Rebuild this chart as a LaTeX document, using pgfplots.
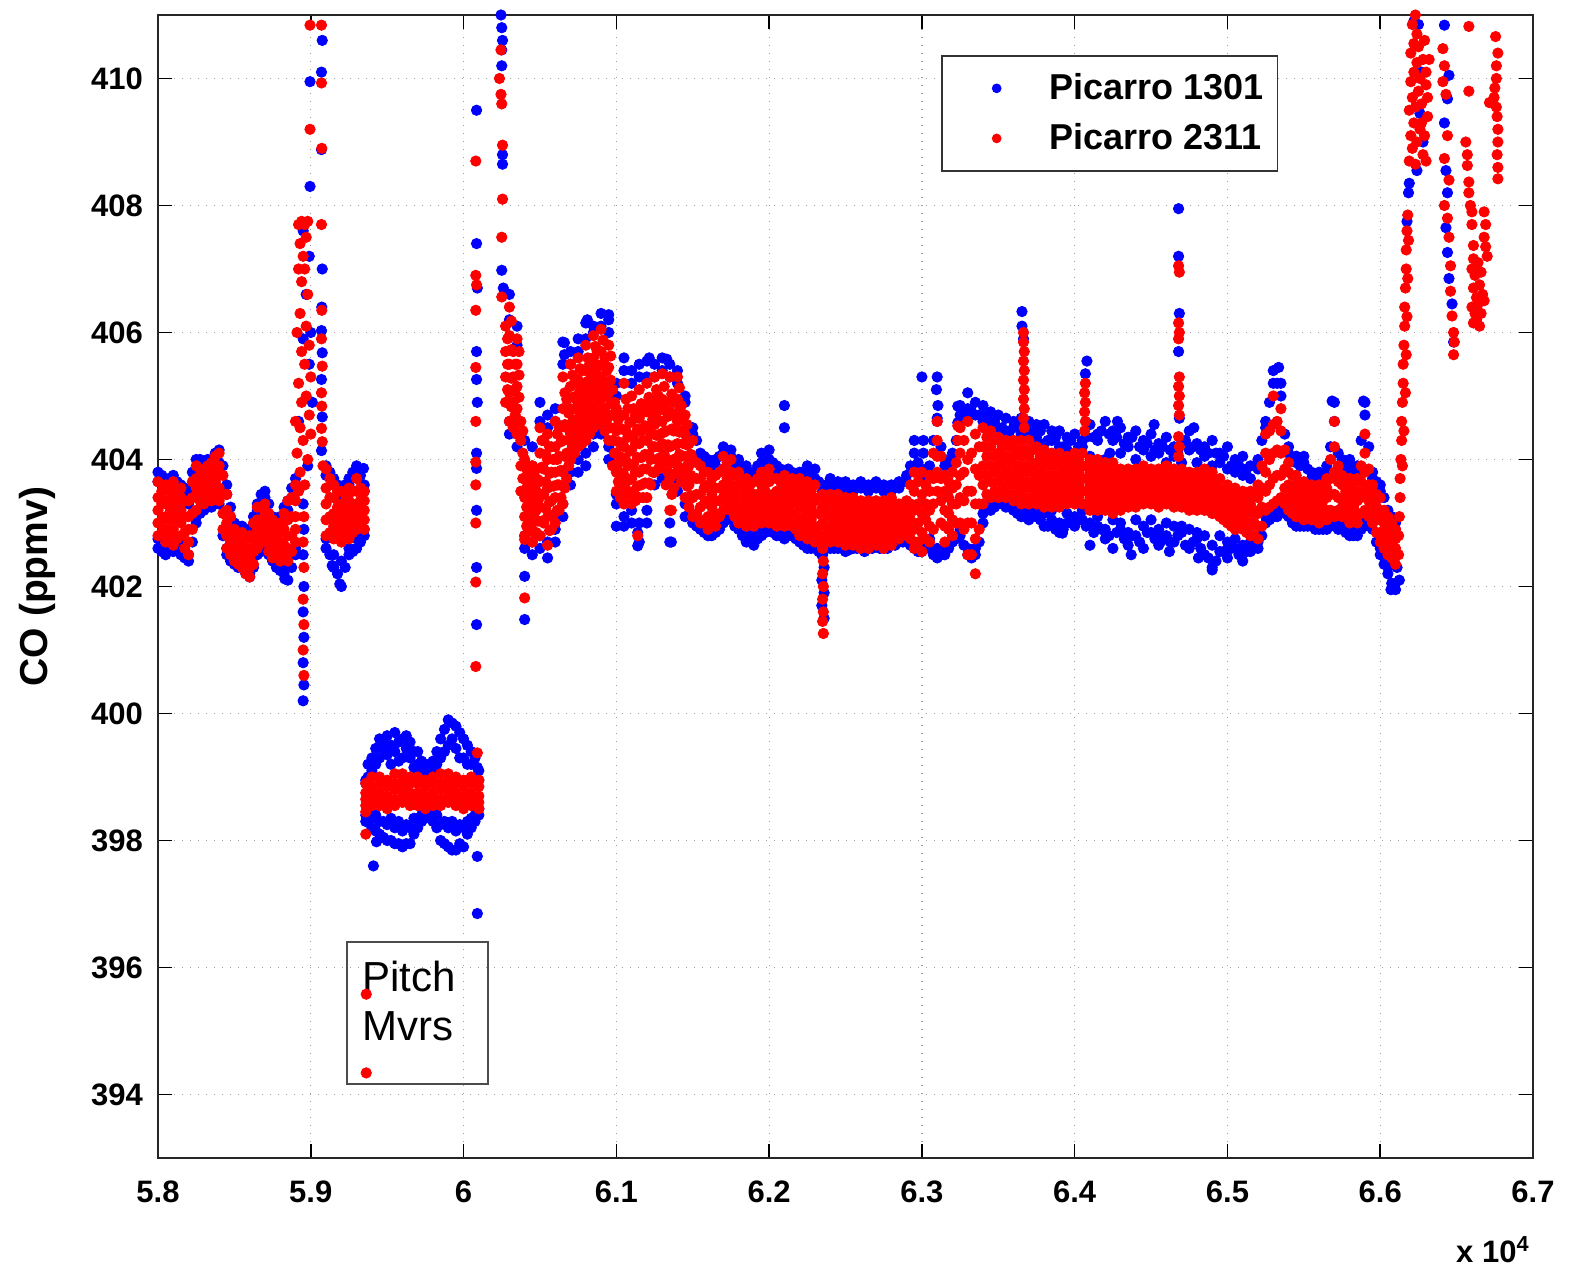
\documentclass[border=0pt]{standalone}
\usepackage{fontspec}
\setmainfont{Liberation Sans}
\usepackage{pgfplots}
\usepackage{pgfplotstable}
\pgfplotsset{compat=1.18}

\pgfplotstableread{
x b1 b2 b3 b4 r1 r2 r3 r4 r5
5.800 402.6 402.75 403.65 403.8 402.8 403.0 403.2 403.4 403.65
5.805 402.5 402.65 403.55 403.7 402.7 402.9 403.1 403.35 403.6
5.810 402.55 402.7 403.6 403.75 402.65 402.9 403.15 403.4 403.65
5.815 402.5 402.7 403.5 403.6 402.8 403.0 403.2 403.4 403.55
5.820 402.4 402.5 403.3 403.5 402.5 402.7 402.9 403.1 403.35
5.825 403.0 403.1 403.8 404.0 403.2 403.4 403.55 403.7 403.9
5.830 403.2 403.3 403.8 403.95 403.3 403.45 403.6 403.75 403.85
5.835 403.25 403.35 403.85 404.0 403.35 403.5 403.65 403.8 403.95
5.840 403.3 403.4 403.95 404.15 403.35 403.55 403.75 403.9 404.1
5.845 402.5 402.6 403.45 403.6 402.6 402.8 403.0 403.2 403.45
5.850 402.35 402.45 402.9 403.0 402.4 402.5 402.65 402.8 402.9
5.855 402.3 402.35 402.85 402.95 402.3 402.45 402.6 402.75 402.85
5.860 402.15 402.2 402.8 402.9 402.15 402.3 402.45 402.6 402.8
5.865 402.5 402.6 403.2 403.3 402.6 402.75 402.9 403.05 403.25
5.870 402.6 402.7 403.4 403.5 402.7 402.85 403.0 403.15 403.3
5.875 402.4 402.45 403.0 403.1 402.45 402.6 402.75 402.9 403.05
5.880 402.25 402.35 402.95 403.1 402.4 402.55 402.7 402.85 403.0
5.885 402.1 402.3 403.2 403.35 402.4 402.6 402.8 403.05 403.35
5.890 402.5 402.6 403.6 403.7 402.7 402.9 403.1 403.35 403.6
5.910 402.6 402.75 403.75 403.9 402.8 403.05 403.3 403.55 403.85
5.915 402.3 402.5 403.6 403.7 402.75 402.95 403.15 403.4 403.6
5.920 402.0 402.4 403.4 403.5 402.7 402.9 403.1 403.3 403.5
5.925 402.5 402.6 403.6 403.7 402.75 402.95 403.15 403.35 403.55
5.930 402.6 402.75 403.75 403.9 402.9 403.1 403.3 403.5 403.7
5.935 402.8 402.9 403.5 403.6 402.9 403.05 403.2 403.35 403.5
5.936 398.3 398.4 398.9 398.95 398.45 398.55 398.65 398.75 398.9
5.940 398.2 398.35 399.1 399.3 398.55 398.65 398.75 398.85 399.0
5.945 398.1 398.3 399.3 399.6 398.55 398.65 398.75 398.9 399.0
5.950 398.0 398.25 399.35 399.65 398.5 398.6 398.7 398.85 398.95
5.955 397.95 398.2 399.4 399.7 398.55 398.65 398.8 398.9 399.05
5.960 397.9 398.15 399.3 399.6 398.6 398.7 398.8 398.95 399.05
5.965 397.95 398.2 399.3 399.55 398.55 398.65 398.75 398.9 399.0
5.970 398.2 398.35 399.2 399.4 398.55 398.65 398.75 398.9 399.0
5.975 398.35 398.45 399.05 399.2 398.5 398.6 398.7 398.85 398.95
5.980 398.3 398.45 399.1 399.25 398.55 398.65 398.75 398.9 399.0
5.985 398.0 398.25 399.3 399.6 398.55 398.65 398.8 398.9 399.05
5.990 397.9 398.2 399.5 399.9 398.6 398.7 398.8 398.95 399.05
5.995 397.85 398.15 399.45 399.8 398.55 398.65 398.75 398.9 399.0
6.000 397.9 398.2 399.3 399.6 398.5 398.6 398.7 398.85 398.95
6.005 398.2 398.35 399.2 399.4 398.55 398.65 398.75 398.9 399.0
6.010 398.4 398.5 398.95 399.1 398.5 398.6 398.7 398.85 398.95
6.030 404.4 404.6 406.2 406.6 404.6 405.05 405.5 405.95 406.4
6.035 404.2 404.4 405.8 406.1 404.4 404.8 405.15 405.5 405.9
6.040 402.6 402.8 403.9 404.3 402.8 403.1 403.4 403.7 404.0
6.045 402.5 402.7 403.9 404.2 402.7 403.0 403.3 403.6 403.9
6.050 402.6 402.8 404.6 404.9 402.8 403.25 403.65 404.1 404.5
6.055 402.45 402.7 404.5 404.7 402.65 403.1 403.55 404.0 404.4
6.060 402.7 402.9 404.6 404.8 403.0 403.4 403.8 404.2 404.6
6.065 403.1 403.3 405.5 405.85 403.3 403.8 404.3 404.8 405.3
6.070 403.6 403.8 405.5 405.7 404.0 404.4 404.8 405.15 405.5
6.075 403.8 404.0 405.7 405.9 404.2 404.55 404.9 405.25 405.6
6.080 403.9 404.1 405.9 406.15 404.3 404.7 405.05 405.4 405.8
6.085 404.2 404.4 406.0 406.1 404.5 404.85 405.2 405.6 405.95
6.090 404.4 404.5 406.1 406.3 404.6 404.95 405.3 405.7 406.05
6.095 404.0 404.2 406.0 406.2 404.3 404.7 405.05 405.45 405.8
6.100 403.3 403.45 405.0 405.2 403.5 403.8 404.1 404.45 404.8
6.105 402.95 403.1 405.4 405.6 403.3 403.75 404.2 404.7 405.2
6.110 403.0 403.2 405.2 405.4 403.3 403.7 404.15 404.6 405.0
6.115 402.7 403.0 405.3 405.5 403.4 403.8 404.25 404.65 405.1
6.120 403.0 403.2 405.3 405.55 403.4 403.85 404.3 404.75 405.2
6.125 403.6 403.8 405.3 405.5 403.8 404.2 404.55 404.9 405.3
6.130 403.7 403.9 405.4 405.6 403.9 404.25 404.6 404.95 405.35
6.135 402.7 403.0 405.3 405.5 403.2 403.7 404.2 404.75 405.3
6.140 403.5 403.7 405.2 405.4 403.9 404.25 404.6 404.95 405.3
6.145 403.1 403.3 404.9 405.0 403.4 403.75 404.05 404.4 404.7
6.150 403.0 403.1 404.4 404.5 403.1 403.4 403.7 404.0 404.3
6.155 402.9 403.0 404.0 404.1 403.0 403.25 403.45 403.7 403.9
6.160 402.8 402.9 403.9 404.0 402.9 403.1 403.35 403.6 403.8
6.165 402.85 402.95 403.9 404.0 402.95 403.15 403.35 403.55 403.75
6.170 403.0 403.1 404.1 404.2 403.2 403.4 403.6 403.85 404.05
6.175 403.1 403.2 404.05 404.15 403.2 403.4 403.6 403.8 404.0
6.180 402.9 403.0 403.9 404.0 403.0 403.2 403.4 403.6 403.8
6.185 402.7 402.85 403.8 403.9 402.95 403.15 403.35 403.5 403.7
6.190 402.65 402.8 403.7 403.8 402.95 403.1 403.3 403.45 403.65
6.195 402.8 402.9 403.95 404.1 403.0 403.2 403.4 403.6 403.8
6.200 402.9 403.0 404.0 404.15 403.0 403.2 403.4 403.65 403.85
6.205 402.8 402.9 403.8 403.9 402.95 403.15 403.35 403.5 403.7
6.210 402.75 402.9 404.5 404.85 402.95 403.15 403.35 403.55 403.75
6.215 402.8 402.9 403.7 403.8 402.95 403.15 403.3 403.5 403.7
6.220 402.7 402.8 403.7 403.8 402.8 403.0 403.25 403.45 403.7
6.225 402.6 402.75 403.8 403.9 402.75 402.95 403.2 403.4 403.65
6.230 402.6 402.7 403.7 403.85 402.7 402.9 403.15 403.35 403.6
6.235 402.5 402.65 403.5 403.6 402.6 402.8 403.0 403.25 403.45
6.240 402.6 402.7 403.6 403.7 402.7 402.9 403.1 403.3 403.45
6.245 402.6 402.7 403.55 403.65 402.7 402.9 403.05 403.25 403.45
6.250 402.55 402.65 403.5 403.65 402.65 402.85 403.0 403.2 403.4
6.255 402.6 402.7 403.5 403.6 402.65 402.85 403.0 403.2 403.4
6.260 402.6 402.7 403.55 403.65 402.6 402.8 402.95 403.15 403.35
6.265 402.6 402.7 403.5 403.6 402.6 402.8 402.95 403.15 403.35
6.270 402.65 402.75 403.55 403.65 402.65 402.85 403.0 403.15 403.35
6.275 402.6 402.7 403.5 403.6 402.6 402.8 402.95 403.15 403.35
6.280 402.65 402.75 403.5 403.6 402.65 402.85 403.0 403.2 403.4
6.285 402.7 402.8 403.55 403.65 402.75 402.9 403.05 403.2 403.3
6.290 402.7 402.8 403.65 403.75 402.8 402.95 403.1 403.25 403.35
6.295 402.6 402.7 404.1 404.3 402.6 402.9 403.2 403.5 403.8
6.300 402.55 402.7 403.7 405.3 402.55 402.85 403.15 403.45 403.8
6.305 402.6 402.75 403.8 403.9 402.7 402.95 403.2 403.5 403.75
6.310 402.45 402.6 404.6 405.3 403.5 403.8 404.05 404.3 404.6
6.315 402.5 402.6 403.9 404.0 402.7 402.95 403.2 403.5 403.75
6.320 402.7 402.8 404.0 404.1 402.8 403.05 403.3 403.55 403.8
6.325 402.8 402.9 404.7 404.85 403.0 403.4 403.75 404.1 404.5
6.330 402.5 402.6 404.8 405.05 402.5 403.0 403.5 404.0 404.6
6.335 402.5 402.6 404.7 404.9 402.2 402.75 403.3 403.85 404.4
6.340 403.0 403.15 404.6 404.85 403.3 403.6 403.9 404.2 404.5
6.345 403.2 403.3 404.75 404.55 403.4 403.65 403.9 404.2 404.45
6.350 403.3 403.4 404.5 404.7 403.4 403.65 403.9 404.1 404.35
6.355 403.25 403.45 404.65 404.45 403.4 403.6 403.85 404.05 404.3
6.360 403.2 403.3 404.5 404.6 403.35 403.6 403.8 404.05 404.3
6.365 403.1 403.25 404.65 404.4 403.3 403.55 403.8 404.05 404.3
6.370 403.05 403.2 404.45 404.6 403.3 403.55 403.8 404.05 404.3
6.375 403.1 403.2 404.55 404.35 403.3 403.5 403.75 403.95 404.2
6.380 402.95 403.15 404.25 404.55 403.25 403.45 403.7 403.9 404.15
6.385 403.05 403.2 404.45 404.3 403.25 403.45 403.65 403.9 404.1
6.390 402.85 403.0 404.2 404.45 403.25 403.45 403.7 403.9 404.1
6.395 403.0 403.15 404.35 404.15 403.3 403.5 403.7 403.85 404.05
6.400 402.95 403.1 404.1 404.4 403.3 403.5 403.7 403.9 404.1
6.405 403.05 403.2 404.3 404.2 403.3 403.5 403.7 403.9 404.1
6.410 402.65 403.0 404.05 404.55 403.2 403.4 403.6 403.8 404.0
6.415 402.95 403.1 404.3 404.4 403.2 403.4 403.6 403.8 404.0
6.420 402.75 402.9 404.0 404.6 403.2 403.4 403.55 403.75 403.95
6.425 402.6 403.05 404.45 404.3 403.15 403.35 403.55 403.75 403.95
6.430 402.9 403.0 404.1 404.5 403.2 403.35 403.5 403.7 403.85
6.435 402.65 402.85 404.35 404.2 403.25 403.4 403.55 403.7 403.85
6.440 402.8 403.05 404.0 404.45 403.25 403.4 403.55 403.7 403.85
6.445 402.6 402.95 404.3 404.15 403.3 403.45 403.6 403.75 403.9
6.450 402.85 403.05 404.05 404.4 403.3 403.45 403.6 403.75 403.85
6.455 402.65 402.9 404.25 404.1 403.25 403.4 403.55 403.7 403.85
6.460 402.8 403.0 403.95 404.35 403.3 403.45 403.6 403.75 403.9
6.465 402.7 402.95 404.2 404.05 403.25 403.4 403.55 403.7 403.85
6.470 402.85 402.95 403.95 404.3 403.25 403.4 403.55 403.7 403.85
6.475 402.6 402.9 404.15 404.45 403.2 403.35 403.5 403.65 403.8
6.480 402.75 402.85 403.95 404.25 403.2 403.35 403.5 403.65 403.8
6.485 402.5 402.8 404.2 404.05 403.2 403.35 403.5 403.7 403.85
6.490 402.3 402.65 403.9 404.3 403.15 403.3 403.45 403.6 403.8
6.495 402.55 402.8 404.1 403.95 403.1 403.25 403.4 403.55 403.7
6.500 402.45 402.7 403.85 404.2 403.0 403.15 403.3 403.45 403.6
6.505 402.6 402.75 404.0 403.8 402.9 403.05 403.2 403.4 403.55
6.510 402.4 402.65 403.75 404.05 402.9 403.05 403.2 403.35 403.5
6.515 402.55 402.7 403.9 403.7 402.8 402.95 403.15 403.3 403.5
6.520 402.6 402.7 403.85 404.0 402.75 402.95 403.15 403.4 403.6
6.525 403.0 403.1 404.5 404.6 403.2 403.5 403.8 404.1 404.4
6.530 403.1 403.2 405.2 405.4 403.3 403.7 404.1 404.55 405.0
6.535 403.2 403.3 405.0 405.2 403.4 403.75 404.1 404.45 404.8
6.540 403.1 403.2 404.1 404.2 403.2 403.4 403.6 403.8 403.95
6.545 402.95 403.05 403.95 404.05 403.1 403.25 403.45 403.6 403.75
6.550 402.95 403.05 403.95 404.05 403.05 403.2 403.35 403.5 403.65
6.555 402.95 403.05 403.7 403.8 403.05 403.2 403.35 403.5 403.6
6.560 402.9 403.0 403.7 403.8 403.0 403.15 403.3 403.45 403.6
6.565 402.9 403.0 403.8 403.9 403.05 403.2 403.4 403.55 403.7
6.570 402.95 403.1 404.6 404.9 403.1 403.45 403.8 404.2 404.6
6.575 402.9 403.0 403.9 404.0 403.1 403.25 403.4 403.6 403.75
6.580 402.8 402.9 403.85 404.0 403.0 403.2 403.35 403.55 403.7
6.585 402.8 402.9 403.8 403.9 403.0 403.15 403.35 403.5 403.7
6.590 403.0 403.1 404.7 404.9 403.2 403.5 403.8 404.1 404.4
6.595 402.9 403.0 403.7 403.8 403.0 403.15 403.3 403.45 403.6
6.600 402.5 402.6 403.5 403.6 402.7 402.85 403.05 403.2 403.4
6.605 402.2 402.3 403.1 403.2 402.5 402.65 402.8 402.95 403.1
6.610 401.95 402.05 402.9 403.0 402.35 402.5 402.6 402.75 402.9
}\mainband

\pgfplotstableread{
x m1 m2 m3 m4 c1 c2
5.8025 402.85 403.05 403.3 403.5 402.55 403.75
5.8075 402.8 403.05 403.25 403.5 402.6 403.7
5.8125 402.75 403.05 403.3 403.5 402.6 403.65
5.8175 402.6 402.85 403.1 403.35 402.45 403.55
5.8225 402.9 403.15 403.4 403.65 402.7 403.8
5.8275 403.35 403.55 403.7 403.85 403.15 404.0
5.8325 403.4 403.55 403.7 403.9 403.25 404.0
5.8375 403.45 403.65 403.85 404.05 403.3 404.1
5.8425 402.9 403.15 403.45 403.75 402.8 403.9
5.8475 402.5 402.7 402.9 403.1 402.4 403.25
5.8525 402.35 402.5 402.65 402.8 402.3 402.95
5.8575 402.2 402.4 402.55 402.75 402.2 402.9
5.8625 402.35 402.55 402.75 403.0 402.3 403.1
5.8675 402.7 402.85 403.05 403.25 402.55 403.45
5.8725 402.55 402.75 402.95 403.15 402.5 403.3
5.8775 402.5 402.65 402.8 402.95 402.3 403.05
5.8825 402.45 402.65 402.9 403.15 402.2 403.25
5.8875 402.55 402.8 403.1 403.4 402.3 403.55
5.9125 402.85 403.1 403.4 403.7 402.5 403.8
5.9175 402.8 403.0 403.25 403.5 402.2 403.6
5.9225 402.8 403.0 403.2 403.45 402.3 403.6
5.9275 402.85 403.05 403.25 403.5 402.55 403.8
5.9325 402.95 403.15 403.35 403.55 402.7 403.75
6.1525 403.15 403.45 403.7 403.95 402.95 404.3
6.1575 403.05 403.3 403.55 403.8 402.85 404.05
6.1625 403.0 403.25 403.45 403.7 402.8 403.95
6.1675 403.1 403.35 403.55 403.8 402.9 404.05
6.1725 403.3 403.5 403.7 403.95 403.05 404.15
6.1775 403.1 403.3 403.5 403.75 402.95 403.95
6.1825 403.05 403.25 403.45 403.65 402.8 403.85
6.1875 403.05 403.2 403.4 403.6 402.7 403.8
6.1925 403.05 403.25 403.45 403.7 402.75 403.9
6.1975 403.1 403.3 403.5 403.75 402.85 404.0
6.2025 403.05 403.25 403.45 403.7 402.85 403.95
6.2075 403.05 403.25 403.45 403.65 402.8 403.85
6.2125 403.05 403.25 403.4 403.6 402.8 403.85
6.2175 402.9 403.1 403.35 403.6 402.75 403.75
6.2225 402.85 403.1 403.3 403.55 402.65 403.8
6.2275 402.8 403.05 403.25 403.5 402.6 403.75
6.2325 402.75 402.95 403.15 403.4 402.55 403.65
6.2375 402.75 402.95 403.15 403.35 402.6 403.6
6.2425 402.8 403.0 403.15 403.35 402.6 403.6
6.2475 402.75 402.95 403.1 403.3 402.6 403.55
6.2525 402.75 402.9 403.1 403.3 402.6 403.55
6.2575 402.7 402.9 403.05 403.25 402.6 403.6
6.2625 402.7 402.85 403.05 403.25 402.55 403.55
6.2675 402.75 402.9 403.05 403.25 402.6 403.6
6.2725 402.7 402.9 403.05 403.25 402.6 403.55
6.2775 402.75 402.9 403.1 403.3 402.6 403.55
6.2825 402.8 402.95 403.1 403.3 402.65 403.6
6.2875 402.85 403.0 403.15 403.3 402.7 403.65
6.2925 402.75 403.05 403.3 403.6 402.65 403.9
6.2975 402.7 403.0 403.3 403.65 402.55 403.95
6.3025 402.75 403.05 403.3 403.6 402.6 403.85
6.3075 402.9 403.3 403.7 404.1 402.5 404.3
6.3125 403.0 403.35 403.7 404.05 402.5 404.2
6.3175 402.9 403.15 403.4 403.65 402.6 403.95
6.3225 403.0 403.3 403.6 403.95 402.75 404.3
6.3275 402.9 403.35 403.8 404.3 402.65 404.7
6.3325 402.5 403.0 403.5 404.1 402.45 404.75
6.3375 402.9 403.3 403.75 404.2 402.7 404.7
6.3425 403.45 403.75 404.05 404.35 403.2 404.7
6.3475 403.5 403.8 404.05 404.3 403.25 404.6
6.3525 403.5 403.75 403.95 404.2 403.3 404.5
6.3575 403.45 403.7 403.95 404.2 403.25 404.45
6.3625 403.45 403.7 403.9 404.15 403.15 404.55
6.3675 403.4 403.65 403.9 404.15 403.1 404.5
6.3725 403.4 403.65 403.9 404.15 403.1 404.4
6.3775 403.35 403.6 403.8 404.05 403.05 404.45
6.3825 403.35 403.55 403.75 404.0 402.95 404.3
6.3875 403.35 403.55 403.75 404.0 402.9 404.35
6.3925 403.35 403.6 403.8 403.95 402.9 404.2
6.3975 403.4 403.6 403.8 404.0 403.0 404.3
6.4025 403.4 403.6 403.8 404.0 403.05 404.2
6.4075 403.3 403.5 403.7 403.9 402.95 404.35
6.4125 403.3 403.5 403.7 403.9 402.85 404.35
6.4175 403.3 403.5 403.65 403.85 402.9 404.45
6.4225 403.25 403.45 403.65 403.85 402.8 404.4
6.4275 403.25 403.45 403.6 403.8 402.85 404.35
6.4325 403.3 403.45 403.6 403.75 402.75 404.25
6.4375 403.3 403.45 403.6 403.75 402.8 404.35
6.4425 403.35 403.5 403.65 403.8 402.7 404.2
6.4475 403.35 403.5 403.65 403.8 402.85 404.25
6.4525 403.3 403.45 403.6 403.75 402.75 404.15
6.4575 403.35 403.5 403.65 403.8 402.8 404.2
6.4625 403.3 403.45 403.6 403.75 402.7 404.15
6.4675 403.3 403.45 403.6 403.75 402.8 404.1
6.4725 403.25 403.4 403.55 403.7 402.65 404.3
6.4775 403.25 403.4 403.55 403.7 402.7 404.2
6.4825 403.25 403.4 403.6 403.75 402.6 404.15
6.4875 403.2 403.35 403.55 403.7 402.45 404.1
6.4925 403.15 403.3 403.5 403.65 402.4 404.1
6.4975 403.05 403.2 403.35 403.5 402.55 404.05
6.5025 402.95 403.1 403.3 403.45 402.6 403.9
6.5075 402.95 403.1 403.25 403.45 402.5 403.9
6.5125 402.85 403.0 403.2 403.4 402.55 403.85
6.5175 402.8 403.0 403.2 403.45 402.6 403.9
6.5225 402.95 403.25 403.55 403.9 402.8 404.3
6.5275 403.25 403.6 404.0 404.45 403.05 404.9
6.5325 403.35 403.75 404.15 404.6 403.1 405.2
6.5375 403.3 403.55 403.85 404.15 403.15 404.4
6.5425 403.15 403.35 403.55 403.75 403.0 404.0
6.5475 403.1 403.25 403.4 403.6 402.95 403.9
6.5525 403.1 403.25 403.4 403.55 402.95 403.85
6.5575 403.05 403.2 403.35 403.5 402.9 403.7
6.5625 403.05 403.2 403.35 403.55 402.9 403.75
6.5675 403.2 403.45 403.7 404.0 402.95 404.2
6.5725 403.2 403.4 403.65 403.9 402.9 404.1
6.5775 403.1 403.3 403.5 403.7 402.85 403.9
6.5825 403.05 403.25 403.45 403.65 402.8 403.85
6.5875 403.15 403.4 403.65 403.9 402.9 404.3
6.5925 403.1 403.35 403.6 403.85 402.95 404.2
6.5975 402.85 403.05 403.25 403.45 402.7 403.65
6.6025 402.6 402.8 403.0 403.2 402.35 403.4
6.6075 402.45 402.6 402.8 403.0 402.05 403.1
}\midband

\pgfplotstableread{
x e1 e2 e3 e4
5.9375 398.3 398.45 399.0 399.2
5.9425 398.15 398.4 399.2 399.45
5.9475 398.05 398.3 399.45 399.55
5.9525 398.0 398.35 399.2 399.5
5.9575 397.95 398.3 399.25 399.55
5.9625 397.95 398.25 399.45 399.65
5.9675 398.1 398.35 399.15 399.4
5.9725 398.3 398.4 399.1 399.25
5.9775 398.4 398.45 399.1 399.2
5.9825 398.2 398.4 399.2 399.4
5.9875 397.95 398.3 399.4 399.75
5.9925 397.85 398.3 399.6 399.85
5.9975 397.95 398.25 399.3 399.7
6.0025 398.1 398.3 399.2 399.5
6.0075 398.3 398.4 399.0 399.3
}\pitchblue

\pgfplotstableread{
x a1 a2 a3 a4
6.0275 404.9 405.3 405.7 406.1
6.0325 404.5 404.9 405.3 405.7
6.0375 403.5 403.9 404.3 404.6
6.0425 402.9 403.25 403.55 403.85
6.0475 402.85 403.2 403.5 403.85
6.0525 403.0 403.45 403.85 404.3
6.0575 402.9 403.35 403.8 404.2
6.0625 403.2 403.6 404.05 404.5
6.0675 403.7 404.1 404.5 404.95
6.0725 404.1 404.45 404.8 405.2
6.0775 404.25 404.6 404.95 405.4
6.0825 404.4 404.75 405.1 405.5
6.0875 404.55 404.9 405.25 405.7
6.0925 404.45 404.8 405.2 405.6
6.0975 403.9 404.3 404.7 405.1
6.1025 403.4 403.8 404.25 404.7
6.1075 403.45 403.9 404.35 404.8
6.1125 403.35 403.8 404.25 404.7
6.1175 403.4 403.85 404.3 404.75
6.1225 403.6 404.0 404.4 404.85
6.1275 403.85 404.2 404.6 405.0
6.1325 403.6 404.0 404.45 404.9
6.1375 403.55 404.0 404.45 404.9
6.1425 403.65 404.05 404.45 404.85
6.1475 403.25 403.6 403.9 404.25
}\widered

\pgfplotstableread{
x w1 w2 w3 w4
6.0313 404.83 405.28 405.73 406.18
6.0363 404.6 404.98 405.33 405.7
6.0413 402.95 403.25 403.55 403.85
6.0463 402.85 403.15 403.45 403.75
6.0513 403.03 403.45 403.88 404.3
6.0563 402.88 403.33 403.78 404.2
6.0613 403.2 403.6 404.0 404.4
6.0663 403.55 404.05 404.55 405.05
6.0713 404.2 404.6 404.98 405.33
6.0763 404.38 404.73 405.08 405.43
6.0813 404.5 404.88 405.23 405.6
6.0863 404.68 405.03 405.4 405.78
6.0913 404.78 405.13 405.5 405.88
6.0963 404.5 404.88 405.25 405.63
6.1013 403.65 403.95 404.28 404.63
6.1063 403.53 403.98 404.45 404.95
6.1113 403.5 403.93 404.38 404.8
6.1163 403.6 404.03 404.45 404.88
6.1213 403.63 404.08 404.53 404.98
6.1263 404.0 404.38 404.73 405.1
6.1313 404.08 404.43 404.78 405.15
6.1363 403.45 403.95 404.48 405.03
6.1413 404.08 404.43 404.78 405.13
6.1463 403.58 403.9 404.23 404.55
}\wideredb

\pgfplotstableread{
x v1 v2 v3
6.0288 405.1 405.5 405.9
6.0338 404.7 405.1 405.5
6.0388 403.7 404.1 404.45
6.0438 403.08 403.4 403.7
6.0488 403.03 403.35 403.68
6.0538 403.23 403.65 404.08
6.0588 403.13 403.58 404.0
6.0638 403.4 403.83 404.28
6.0688 403.9 404.3 404.73
6.0738 404.28 404.63 405.0
6.0788 404.43 404.78 405.18
6.0838 404.58 404.93 405.3
6.0888 404.73 405.08 405.48
6.0938 404.63 405.0 405.4
6.0988 404.1 404.5 404.9
6.1038 403.6 404.03 404.48
6.1088 403.68 404.13 404.58
6.1138 403.58 404.03 404.48
6.1188 403.63 404.08 404.53
6.1238 403.8 404.2 404.63
6.1288 404.03 404.4 404.8
6.1338 403.8 404.23 404.68
6.1388 403.78 404.23 404.68
6.1438 403.85 404.25 404.65
6.1488 403.43 403.75 404.08
}\wideredc

\pgfplotsset{
  bd/.style={only marks, mark=*, mark size=2.6pt, color=blue, forget plot},
  rd/.style={only marks, mark=*, mark size=2.6pt, color=red, forget plot}
}

\begin{document}
\begin{tikzpicture}
\begin{axis}[name=ax, scale only axis, width=687.5pt, height=571.5pt,
  xmin=5.8, xmax=6.7, ymin=393, ymax=411,
  xtick={5.8,5.9,6.0,6.1,6.2,6.3,6.4,6.5,6.6,6.7},
  xticklabels={5.8,5.9,6,6.1,6.2,6.3,6.4,6.5,6.6,6.7},
  ytick={394,396,398,400,402,404,406,408,410},
  yticklabels={394,396,398,400,402,404,406,408,410},
  tick align=inside, xtick pos=both, ytick pos=both, major tick length=7pt,
  tick style={black, line width=0.8pt},
  axis line style={black!85, line width=1pt},
  grid=major, major grid style={gray!75, line width=0.6pt, dash pattern=on 0.7pt off 3.3pt},
  ticklabel style={font=\fontsize{15.5}{18}\selectfont\bfseries},
  xticklabel style={yshift=-8pt},
  yticklabel style={xshift=-4pt},
  legend style={at={(0.5695,0.965)}, anchor=north west, draw=black!80, line width=0.8pt,
    font=\fontsize{18}{21}\selectfont\bfseries, inner xsep=5pt, inner ysep=7pt,
    row sep=6.5pt},
  legend cell align=left,
  legend image code/.code={\path (-22pt,0pt) (24pt,0pt);
    \draw[mark repeat=2,mark phase=2,mark size=2pt] plot coordinates {(-1pt,0pt) (0pt,0pt) (1pt,0pt)};},
]
% ---- blue (Picarro 1301) ----
\addplot[only marks, mark=*, mark size=2.6pt, color=blue] table[x=x,y=b1]{\mainband};
\addlegendentry{Picarro 1301}
\addplot[bd] table[x=x,y=b2]{\mainband};
\addplot[bd] table[x=x,y=b3]{\mainband};
\addplot[bd] table[x=x,y=b4]{\mainband};
\addplot[bd] table[x=x,y=c1]{\midband};
\addplot[bd] table[x=x,y=c2]{\midband};
\addplot[bd] table[x=x,y=e1]{\pitchblue};
\addplot[bd] table[x=x,y=e2]{\pitchblue};
\addplot[bd] table[x=x,y=e3]{\pitchblue};
\addplot[bd] table[x=x,y=e4]{\pitchblue};
\addplot[bd] coordinates {
(5.895,403.3) (5.8955,402.9) (5.895,402.5) (5.8955,402.0) (5.895,401.6) (5.8955,401.2) (5.895,400.8) (5.8955,400.45) (5.895,400.2)
(5.895,407.6) (5.899,407.2) (5.897,406.6) (5.900,406.0) (5.899,405.5) (5.895,405.9) (5.901,404.9) (5.8995,408.3) (5.8995,409.95) (5.892,404.6) (5.898,403.9)
(5.9075,410.6) (5.907,410.1) (5.907,408.88) (5.9075,407.0) (5.9072,406.4) (5.907,406.03) (5.9075,405.68) (5.907,405.26) (5.9075,404.67) (5.907,404.14)
(6.0085,409.5) (6.0085,407.4) (6.009,406.7) (6.0085,405.7) (6.0085,405.26) (6.009,404.9) (6.0085,404.1) (6.0085,403.86) (6.0085,403.2) (6.0085,402.3) (6.0085,401.4) (6.009,399.15) (6.009,397.75) (6.009,396.85)
(6.0245,411.0) (6.025,410.8) (6.0255,410.6) (6.025,410.45) (6.025,410.2) (6.0255,408.8) (6.0255,408.65) (6.025,406.98) (6.026,406.7)
(6.2345,402.5) (6.236,402.3) (6.2345,402.1) (6.236,401.9) (6.2345,401.7) (6.236,401.5)
(6.3095,405.1) (6.3105,404.85) (6.31,404.65) (6.3235,404.84) (6.3235,404.58)
(6.3665,405.9) (6.407,405.35)
(6.468,407.95) (6.468,407.2) (6.4685,406.3) (6.468,405.7) (6.4685,404.65)
(6.6185,408.2) (6.619,408.35) (6.6175,407.75) (6.622,410.9) (6.625,410.85) (6.627,410.1) (6.628,409.0) (6.624,408.55) (6.626,409.45) (6.6125,402.1) (6.611,402.3)
(6.642,410.84) (6.645,410.05) (6.644,409.68) (6.642,409.3) (6.643,408.55) (6.644,408.2) (6.643,407.65) (6.644,407.26) (6.645,406.85) (6.647,406.45) (6.648,405.85)
(5.9345,403.86) (5.914,402.33) (5.919,402.04) (5.883,402.12) (5.941,397.6) (5.943,397.98)
(6.040,402.16) (6.040,401.48) (6.066,405.84) (6.066,405.65) (6.081,406.2) (6.095,406.28)
(6.100,402.95) (6.114,402.64) (6.114,402.85) (6.136,402.7) (6.1215,405.6) (6.133,405.58)
(6.301,404.3) (6.301,404.1) (6.2525,402.58) (6.392,402.84) (6.490,402.26) (6.408,405.55)
(6.3655,406.33) (6.3655,406.1) (6.5335,405.45) (6.607,401.95) (6.545,404.05) (6.5685,404.92) (6.589,404.92)
(6.428,404.6) (6.452,404.55) (6.478,404.5) (6.437,402.5) (6.462,402.55) (6.481,402.45) (6.423,404.1) (6.456,402.7)
};
% ---- red (Picarro 2311) ----
\addplot[only marks, mark=*, mark size=2.6pt, color=red] table[x=x,y=r1]{\mainband};
\addlegendentry{Picarro 2311}
\addplot[rd] table[x=x,y=r2]{\mainband};
\addplot[rd] table[x=x,y=r3]{\mainband};
\addplot[rd] table[x=x,y=r4]{\mainband};
\addplot[rd] table[x=x,y=r5]{\mainband};
\addplot[rd] table[x=x,y=m1]{\midband};
\addplot[rd] table[x=x,y=m2]{\midband};
\addplot[rd] table[x=x,y=m3]{\midband};
\addplot[rd] table[x=x,y=m4]{\midband};
\addplot[rd] table[x=x,y=a1]{\widered};
\addplot[rd] table[x=x,y=a2]{\widered};
\addplot[rd] table[x=x,y=a3]{\widered};
\addplot[rd] table[x=x,y=a4]{\widered};
\addplot[rd] table[x=x,y=w1]{\wideredb};
\addplot[rd] table[x=x,y=w2]{\wideredb};
\addplot[rd] table[x=x,y=w3]{\wideredb};
\addplot[rd] table[x=x,y=w4]{\wideredb};
\addplot[rd] table[x=x,y=v1]{\wideredc};
\addplot[rd] table[x=x,y=v2]{\wideredc};
\addplot[rd] table[x=x,y=v3]{\wideredc};
\addplot[rd] coordinates {
(5.8955,403.1) (5.895,402.7) (5.8955,402.3) (5.895,401.8) (5.8955,401.4) (5.895,401.0) (5.8955,400.6)
(5.892,407.7) (5.894,407.75) (5.896,407.7) (5.898,407.75) (5.893,407.4) (5.895,407.2) (5.897,407.5) (5.892,407.0) (5.894,406.8) (5.896,407.0) (5.898,406.6) (5.893,406.3) (5.897,406.1) (5.899,405.8) (5.894,405.7) (5.896,405.5) (5.892,405.2) (5.894,404.9) (5.897,405.0) (5.899,404.7) (5.893,404.5) (5.895,404.3) (5.891,404.1) (5.893,403.8) (5.896,403.6) (5.898,404.0) (5.900,405.3) (5.900,404.4) (5.891,406.0) (5.890,404.6) (5.892,403.5)
(5.8995,410.84) (5.8995,409.2)
(5.907,410.84) (5.907,409.93) (5.9072,408.9) (5.907,407.7) (5.9072,406.35) (5.907,405.9) (5.9075,405.47) (5.907,405.05) (5.9072,404.84) (5.907,404.49) (5.9075,404.28) (5.908,403.9)
(6.008,408.7) (6.008,406.9) (6.0085,406.75) (6.008,406.35) (6.008,405.45) (6.008,404.6) (6.008,403.96) (6.008,403.6) (6.008,403.0) (6.008,402.07) (6.008,400.74) (6.009,399.38)
(6.0245,410.45) (6.0235,410.0) (6.0245,409.75) (6.025,409.6) (6.0255,408.95) (6.0255,408.1) (6.025,407.5) (6.025,406.56)
(6.235,402.6) (6.2355,402.4) (6.235,402.2) (6.2355,402.0) (6.235,401.8) (6.2355,401.6) (6.235,401.45) (6.2355,401.26)
(6.3235,404.53) (6.3235,404.3)
(6.3665,406.0) (6.3665,405.85) (6.367,405.7) (6.3665,405.55) (6.367,405.4) (6.3665,405.25) (6.367,405.1) (6.3665,404.95) (6.367,404.8) (6.3665,404.65) (6.367,404.5)
(6.407,405.2) (6.4065,405.05) (6.407,404.9) (6.4065,404.75) (6.407,404.6) (6.4065,404.45)
(6.468,407.05) (6.4685,406.95) (6.468,406.15) (6.4685,406.0) (6.468,405.9) (6.4685,405.3) (6.468,405.15) (6.4685,405.0) (6.468,404.85) (6.4685,404.7) (6.468,404.36) (6.4685,404.2) (6.468,404.05)
(6.612,402.5) (6.612,402.8) (6.6125,403.1) (6.613,403.4) (6.613,403.7) (6.6135,404.0) (6.614,404.3) (6.614,404.6) (6.6145,404.9) (6.615,405.2) (6.615,405.5) (6.6155,405.8) (6.616,406.1) (6.616,406.4) (6.6165,406.7) (6.617,407.0) (6.617,407.3) (6.6175,407.6) (6.618,407.85)
(6.6145,403.9) (6.6155,404.45) (6.6165,405.05) (6.617,405.65) (6.6175,406.25) (6.618,406.85) (6.6185,407.45)
(6.619,408.7) (6.621,408.9) (6.623,408.65) (6.620,409.1) (6.622,409.3) (6.624,409.0) (6.626,409.2) (6.619,409.5) (6.621,409.7) (6.623,409.55) (6.625,409.8) (6.627,409.6) (6.620,409.95) (6.622,410.1) (6.624,410.25) (6.626,410.0) (6.628,410.3) (6.620,410.4) (6.622,410.55) (6.624,410.7) (6.621,410.85) (6.623,411.0) (6.625,410.5) (6.627,409.3) (6.628,408.8) (6.630,409.9) (6.631,409.4)
(6.629,410.6) (6.630,410.1) (6.631,409.7) (6.629,409.1) (6.630,408.7) (6.632,410.3)
(6.641,410.47) (6.642,410.2) (6.641,409.95) (6.643,409.75) (6.644,409.1) (6.642,408.74) (6.645,408.4) (6.642,408.0) (6.644,407.8) (6.645,407.5) (6.646,407.05) (6.646,406.65) (6.647,406.26) (6.648,406.0) (6.648,405.65) (6.6485,405.85)
(6.658,410.82) (6.658,409.8) (6.656,409.0) (6.657,408.8) (6.657,408.63) (6.658,408.37) (6.658,408.2) (6.659,408.0) (6.660,407.9) (6.660,407.7) (6.661,407.37) (6.661,407.16)
(6.660,407.0) (6.662,406.9) (6.664,407.1) (6.666,406.95) (6.661,406.7) (6.663,406.55) (6.665,406.75) (6.667,406.6) (6.660,406.4) (6.662,406.3) (6.664,406.45) (6.666,406.3) (6.668,406.5) (6.661,406.15) (6.663,406.2) (6.665,406.1)
(6.668,407.9) (6.669,407.7) (6.668,407.5) (6.669,407.35) (6.670,407.2)
(6.6755,410.66) (6.677,410.4) (6.676,410.2) (6.676,410.0) (6.675,409.85) (6.6745,409.7) (6.6715,409.62) (6.676,409.55) (6.6765,409.4) (6.677,409.2) (6.677,409.0) (6.6765,408.8) (6.677,408.6) (6.677,408.42)
(5.936,398.1) (6.040,401.82) (6.040,402.74) (6.136,403.2) (6.114,402.8)
(5.9363,395.58) (5.9363,394.34)
};
% ---- "Pitch Mvrs" annotation box ----
\node[draw=black!70, line width=0.8pt, anchor=north west, minimum width=70.5pt, minimum height=71pt, inner sep=0pt] at (axis cs:5.9231,396.41) {};
\node[anchor=base west, inner sep=0pt, font=\fontsize{21}{25}\selectfont] at (axis cs:5.9335,395.62) {Pitch};
\node[anchor=base west, inner sep=0pt, font=\fontsize{21}{25}\selectfont] at (axis cs:5.9335,394.85) {Mvrs};
\end{axis}
\node[rotate=90, inner sep=0pt, font=\fontsize{19.5}{23}\selectfont\bfseries] at ([xshift=-60.5pt]ax.west) {CO (ppmv)};
\node[anchor=base east, inner sep=0pt, font=\fontsize{15.5}{18}\selectfont\bfseries] at ([xshift=-1.5pt,yshift=-52pt]ax.south east) {x 10\textsuperscript{4}};
\path ([xshift=-79pt,yshift=-55.5pt]ax.south west) rectangle ([xshift=21pt,yshift=7.5pt]ax.north east);
\end{tikzpicture}
\end{document}
